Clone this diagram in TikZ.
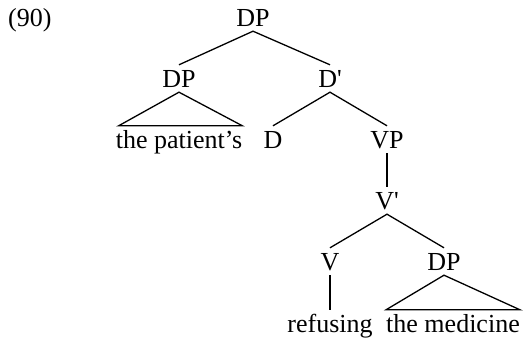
\documentclass[tikz,border=0pt]{standalone}
\usepackage{fontspec}
\setmainfont{Liberation Serif}
\begin{document}
\begin{tikzpicture}[x=1pt,y=-1pt,
  lbl/.style={inner sep=0pt,text height=23pt,text depth=4pt,anchor=base,font=\fontsize{26}{30}\selectfont},
  edge/.style={line width=1.3pt,line join=miter}]
\useasboundingbox (0,0) rectangle (523,339);
\node[lbl,anchor=base west] (ex) at (8,27) {(90)};
\node[lbl] (dp0) at (253,27) {DP};
\node[lbl] (dp1) at (179,88) {DP};
\node[lbl] (dbar) at (330,88) {D\textquotesingle};
\node[lbl] (pat) at (179,149) {the patient’s};
\node[lbl] (d) at (273,149) {D};
\node[lbl] (vp) at (387,149) {VP};
\node[lbl] (vbar) at (387,210) {V\textquotesingle};
\node[lbl] (v) at (330,271) {V};
\node[lbl] (dp2) at (444,271) {DP};
\node[lbl] (ref) at (330,333) {refusing};
\node[lbl] (med) at (453,333) {the medicine};
\draw[edge] (dp1.north) -- (dp0.south) -- (dbar.north);
\draw[edge] (d.north) -- (dbar.south) -- (vp.north);
\draw[edge] (vp.south) -- (vbar.north);
\draw[edge] (v.north) -- (vbar.south) -- (dp2.north);
\draw[edge] (v.south) -- (ref.north);
\draw[edge] ([xshift=3pt]pat.north west) -- (dp1.south) -- (pat.north east) -- cycle;
\draw[edge] (med.north west) -- (dp2.south) -- (med.north east) -- cycle;
\end{tikzpicture}
\end{document}
